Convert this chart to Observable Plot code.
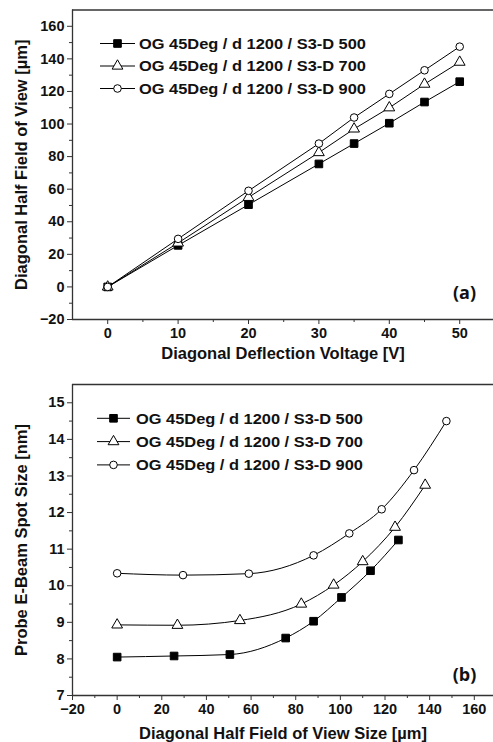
<!DOCTYPE html>
<html><head><meta charset="utf-8">
<script src="https://cdn.jsdelivr.net/npm/d3@7"></script>
<script src="https://cdn.jsdelivr.net/npm/@observablehq/plot@0.6"></script>
<style>
body{margin:0;background:#fff;}
#chart svg{display:block;}
</style></head><body><div id="chart"></div>
<script>
// ---- data ----
const seriesNames = ["OG 45Deg / d 1200 / S3-D 500", "OG 45Deg / d 1200 / S3-D 700", "OG 45Deg / d 1200 / S3-D 900"];
const voltage = [0, 10, 20, 30, 35, 40, 45, 50];
const fov500 = [0, 25.5, 50.5, 75.5, 88, 100.5, 113.5, 126];
const fov700 = [0, 27, 55, 82.5, 97, 110, 124.5, 138];
const fov900 = [0, 29.5, 59, 88, 104, 118.5, 133, 147.5];
const spot500 = [8.05, 8.08, 8.12, 8.57, 9.03, 9.68, 10.41, 11.25];
const spot700 = [8.93, 8.92, 9.05, 9.5, 10.02, 10.66, 11.6, 12.75];
const spot900 = [10.34, 10.29, 10.33, 10.83, 11.43, 12.09, 13.16, 14.5];
const xTicksA = [0, 10, 20, 30, 40, 50];
const yTicksA = [-20, 0, 20, 40, 60, 80, 100, 120, 140, 160];
const xTicksB = [-20, 0, 20, 40, 60, 80, 100, 120, 140, 160];
const yTicksB = [7, 8, 9, 10, 11, 12, 13, 14, 15];

const symbols = ["square", "triangle", "circle"];
const fills = ["#000", "#fff", "#fff"];
const radii = [4.3, 4.0, 3.8];
const FONT = "'Liberation Sans', Arial, sans-serif";
const INK = "#111";

function rowsOf(xs, ys, s) { return xs.map((x, j) => ({x, y: ys[j], s})); }
function minorBetween(ticks) {
  const out = [];
  for (let i = 0; i < ticks.length - 1; i++) out.push((ticks[i] + ticks[i + 1]) / 2);
  return out;
}

function panel(opts) {
  const {xs, ys, xDomain, yDomain, xTicks, yTicks, height, marginTop, marginBottom,
         curve, xTitle, yTitle, tag, tagDy, titleDy, legend} = opts;
  const series = ys.map((yv, i) => rowsOf(xs[i], yv, i));
  const allRows = series.flat();
  const xMinor = minorBetween(xTicks);
  const yMinor = minorBetween(yTicks);
  const marks = [
    Plot.ruleX([xDomain[0]], {stroke: "#333", strokeWidth: 1.3}),
    Plot.ruleY([yDomain[0]], {stroke: "#333", strokeWidth: 1.3}),
    Plot.ruleY([yDomain[1]], {stroke: "#333", strokeWidth: 1.3}),
    Plot.axisX({ticks: xTicks, tickSize: 5, tickPadding: 3, label: null, fontSize: 14.5, fontWeight: "bold", stroke: "#333"}),
    Plot.axisX({ticks: xMinor, tickSize: 3, tickFormat: () => "", label: null, stroke: "#333"}),
    Plot.axisY({ticks: yTicks, tickSize: 5, tickPadding: 3, label: null, fontSize: 14.5, fontWeight: "bold", stroke: "#333"}),
    Plot.axisY({ticks: yMinor, tickSize: 3, tickFormat: () => "", label: null, stroke: "#333"}),
    Plot.line(allRows, {x: "x", y: "y", z: "s", stroke: "#000", strokeWidth: 1, curve}),
  ];
  series.forEach((rows, i) => {
    marks.push(Plot.dot(rows, {x: "x", y: "y", symbol: symbols[i], r: radii[i], fill: fills[i], stroke: "#000", strokeWidth: 1}));
  });
  marks.push(
    Plot.text([xTitle], {frameAnchor: "bottom", dx: 0, dy: titleDy, text: d => d, fontSize: 16.5, fontWeight: "bold", lineAnchor: "middle", textAnchor: "middle", fill: INK}),
    Plot.text([yTitle], {frameAnchor: "left", dx: -51, rotate: -90, text: d => d, fontSize: 16.5, fontWeight: "bold", lineAnchor: "middle", textAnchor: "middle", fill: INK}),
    Plot.text([tag], {frameAnchor: "bottom-right", dx: -29, dy: tagDy, text: d => d, fontSize: 18, fontWeight: "bold", fontFamily: "'Open Sans', sans-serif", lineAnchor: "middle", textAnchor: "middle", fill: INK})
  );
  const svg = Plot.plot({
    width: 493, height, marginLeft: 72, marginRight: 0, marginTop, marginBottom,
    style: {fontFamily: FONT, color: INK, background: "#fff", overflow: "visible"},
    x: {domain: xDomain}, y: {domain: yDomain},
    marks
  });
  const g = d3.select(svg).append("g");
  seriesNames.forEach((name, i) => {
    const yy = legend.y0 + i * legend.step;
    g.append("line").attr("x1", legend.x1).attr("x2", legend.x2).attr("y1", yy).attr("y2", yy)
      .attr("stroke", "#000").attr("stroke-width", 1);
    const typeName = "symbol" + symbols[i][0].toUpperCase() + symbols[i].slice(1);
    g.append("path").attr("d", d3.symbol(d3[typeName], Math.PI * radii[i] * radii[i])())
      .attr("transform", `translate(${(legend.x1 + legend.x2) / 2},${yy})`)
      .attr("fill", fills[i]).attr("stroke", "#000").attr("stroke-width", 1);
    g.append("text").attr("x", legend.tx).attr("y", yy).attr("dy", "0.35em")
      .attr("text-anchor", "start")
      .attr("font-family", FONT).attr("font-weight", "bold").attr("font-size", 15.5).attr("fill", INK)
      .attr("textLength", legend.tw).attr("lengthAdjust", "spacingAndGlyphs")
      .text(name);
  });
  return svg;
}

const panelA = panel({
  xs: [voltage, voltage, voltage], ys: [fov500, fov700, fov900],
  xDomain: [-5, 54.8], yDomain: [-20, 170], xTicks: xTicksA, yTicks: yTicksA,
  height: 371, marginTop: 9.5, marginBottom: 52, curve: "linear",
  xTitle: "Diagonal Deflection Voltage [V]", yTitle: "Diagonal Half Field of View [µm]",
  tag: "(a)", tagDy: -26, titleDy: 34,
  legend: {x1: 100, x2: 135, tx: 139, tw: 227, y0: 43.5, step: 22.5}
});
const panelB = panel({
  xs: [fov500, fov700, fov900], ys: [spot500, spot700, spot900],
  xDomain: [-20, 168.6], yDomain: [7, 15.5], xTicks: xTicksB, yTicks: yTicksB,
  height: 371, marginTop: 13, marginBottom: 47, curve: "monotone-x",
  xTitle: "Diagonal Half Field of View Size [µm]", yTitle: "Probe E-Beam Spot Size [nm]",
  tag: "(b)", tagDy: -20, titleDy: 38,
  legend: {x1: 97, x2: 130, tx: 136, tw: 227, y0: 47.3, step: 23.3}
});
document.getElementById("chart").append(panelA, panelB);
</script>
</body></html>
